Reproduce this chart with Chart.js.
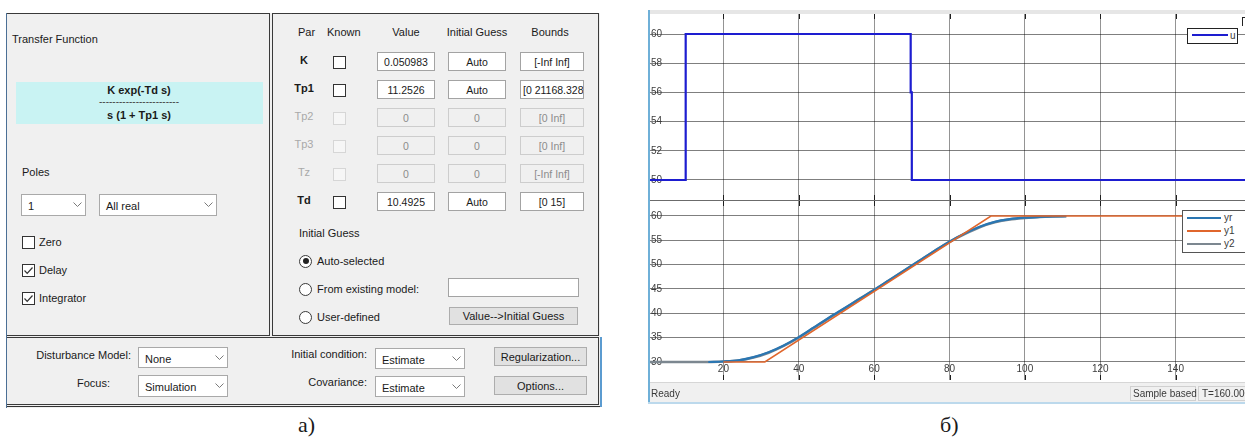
<!DOCTYPE html>
<html lang="ru">
<head>
<meta charset="utf-8">
<title>Transfer Function / Scope</title>
<script src="https://cdn.jsdelivr.net/npm/chart.js@4.4.1/dist/chart.umd.min.js"></script>
<style>
  html, body { margin:0; padding:0; background:#fff; }
  body { position:relative; width:1245px; height:438px; overflow:hidden;
         font-family:"Liberation Sans", Arial, sans-serif; font-size:11px; color:#1a1a1a; }
  .abs  { position:absolute; box-sizing:border-box; white-space:nowrap; }
  .lbl  { position:absolute; white-space:nowrap; line-height:14px; height:14px; }
  .panel{ position:absolute; box-sizing:border-box; border:1px solid #3a3a3a; background:#f0f0f0; }
  .box  { position:absolute; box-sizing:border-box; border:1px solid #a3a3a3; background:#fff; overflow:hidden;
          font-size:10.5px; display:flex; align-items:center; justify-content:center; white-space:nowrap; }
  .box.off { background:#f0f0f0; border-color:#cdcdcd; color:#8c8c8c; }
  .box.left { justify-content:flex-start; padding-left:2px; }
  .chk  { position:absolute; box-sizing:border-box; width:13px; height:13px; border:1px solid #333; background:#fff; }
  .chk.off { border-color:#d6d6d6; background:#f6f6f6; }
  .radio{ position:absolute; box-sizing:border-box; width:13px; height:13px; border:1px solid #3a3a3a; border-radius:50%; background:#fff; }
  .btn  { position:absolute; box-sizing:border-box; border:1px solid #adadad; background:#e1e1e1;
          display:flex; align-items:center; justify-content:center; font-size:11px; white-space:nowrap; }
  .combo{ position:absolute; box-sizing:border-box; border:1px solid #a9a9a9; background:#fff; font-size:11px;
          padding-left:6px; padding-top:2px; display:flex; align-items:center; white-space:nowrap; }
  .combo svg { position:absolute; right:3px; top:50%; margin-top:-3px; }
  .cap  { position:absolute; font-family:"Liberation Serif", "Times New Roman", serif; font-size:22px; line-height:24px; }
  canvas { position:absolute; }
  .stat { position:absolute; font-size:10px; color:#3a3a3a; line-height:12px; white-space:nowrap; }
</style>
</head>
<body>
<script>
// ---------- Parameter table of the transfer-function estimator ----------
const parNames   = ['K', 'Tp1', 'Tp2', 'Tp3', 'Tz', 'Td'];
const parValues  = ['0.050983', '11.2526', '0', '0', '0', '10.4925'];
const parGuesses = ['Auto', 'Auto', '0', '0', '0', 'Auto'];
const parBounds  = ['[-Inf Inf]', '[0 21168.328]', '[0 Inf]', '[0 Inf]', '[-Inf Inf]', '[0 15]'];
const parActive  = [true, true, false, false, false, true];

// ---------- Scope signals (time in s) ----------
const timeTicks = [20, 40, 60, 80, 100, 120, 140];
const uTicks    = [50, 52, 54, 56, 58, 60];
const yTicks    = [30, 35, 40, 45, 50, 55, 60];

const uTime = [0, 10, 10, 69.7, 69.7, 70, 70, 160];
const uVal  = [50, 50, 60, 60, 56, 56, 50, 50];

const yrTime = [16, 20, 24, 28, 32, 36, 40, 44, 48, 52, 56, 60, 64, 68, 72, 76, 80, 84, 88, 92, 96, 100, 104, 108, 111];
const yrVal  = [30.0, 30.1, 30.35, 31.0, 32.0, 33.4, 35.1, 37.1, 39.1, 41.0, 42.9, 44.8, 46.8, 48.8, 50.8, 52.8, 54.7, 56.4, 57.8, 58.8, 59.35, 59.65, 59.8, 59.9, 59.95];

const y1Time = [20, 31, 91, 160];
const y1Val  = [30, 30, 60, 60];

const y2Time = [0, 16, 20, 24, 28, 32, 36, 40, 44, 48, 52, 56, 60, 64, 68, 72, 76, 80, 84, 88, 92, 96, 100, 104, 108, 111];
const y2Val  = [30.0, 30.0, 30.1, 30.3, 30.9, 31.9, 33.3, 35.0, 37.0, 39.0, 40.9, 42.9, 44.8, 46.8, 48.8, 50.8, 52.8, 54.7, 56.3, 57.7, 58.7, 59.3, 59.6, 59.8, 59.9, 59.95];

const colU = '#1d1dd0', colYr = '#2a76b2', colY1 = '#e0662c', colY2 = '#7c8790';

// ---------- small DOM helpers ----------
function add(cls, x, y, w, h, text, extra) {
  const d = document.createElement('div');
  d.className = cls;
  d.style.left = x + 'px'; d.style.top = y + 'px';
  if (w != null) d.style.width = w + 'px';
  if (h != null) d.style.height = h + 'px';
  if (text != null) d.textContent = text;
  if (extra) Object.assign(d.style, extra);
  document.body.appendChild(d);
  return d;
}
function label(x, cy, text, extra) { return add('lbl', x, cy - 7, null, null, text, extra); }
function clabel(cx, cy, text, extra) {
  return add('lbl', cx, cy - 7, null, null, text, Object.assign({ transform: 'translateX(-50%)' }, extra || {}));
}
function rlabel(right, cy, text) {
  return add('lbl', 0, cy - 7, right, null, text, { textAlign: 'right' });
}
const CHEV = '<svg width="9" height="6" viewBox="0 0 9 6"><polyline points="0.5,0.5 4.5,4.5 8.5,0.5" fill="none" stroke="#7a7a7a" stroke-width="1"/></svg>';
const TICK = '<svg width="11" height="11" viewBox="0 0 11 11" style="position:absolute;left:0;top:0"><polyline points="1.5,5.5 4.2,8.3 9.5,2.5" fill="none" stroke="#333" stroke-width="1.2"/></svg>';
function combo(x, y, w, h, text) {
  const d = add('combo', x, y, w, h, text);
  d.insertAdjacentHTML('beforeend', CHEV);
  return d;
}
function check(x, y, on, disabled) {
  const d = add('chk' + (disabled ? ' off' : ''), x, y, 13, 13);
  if (on) d.innerHTML = TICK;
  return d;
}
function radio(x, cy, on) {
  const d = add('radio', x, cy - 6.5, 13, 13);
  if (on) d.innerHTML = '<div style="position:absolute;left:2.5px;top:2.5px;width:6px;height:6px;border-radius:50%;background:#222"></div>';
  return d;
}

// ---------- dialog frame ----------
add('abs', 6, 13, 594, 395, null, { background: '#f0f0f0' });
add('panel', 6, 13, 264, 323);
add('panel', 272, 13, 327, 323);
add('panel', 6, 337, 593, 68);
add('abs', 6, 406, 595, 1, null, { background: '#333' });
add('abs', 6, 13, 1, 395, null, { background: '#4b6f95' });
add('abs', 600, 337, 2, 70, null, { background: '#5b9bd0' });

// ---------- left panel: model structure ----------
label(12, 39, 'Transfer Function');
add('abs', 16, 82, 247, 42, null, { background: '#c9f3f3' });
clabel(139, 90, 'K exp(-Td s)', { fontWeight: 'bold' });
clabel(139, 102, '------------------------', { fontSize: '10px', color: '#444' });
clabel(139, 115, 's (1 + Tp1 s)', { fontWeight: 'bold' });
label(22, 172, 'Poles');
combo(21, 194, 65, 22, '1');
combo(99, 194, 118, 22, 'All real');
check(22, 236, false); label(39, 242, 'Zero');
check(22, 264, true);  label(39, 270, 'Delay');
check(22, 292, true);  label(39, 298, 'Integrator');

// ---------- right panel: parameter table ----------
label(298, 32, 'Par'); label(327, 32, 'Known');
clabel(406, 32, 'Value'); clabel(477, 32, 'Initial Guess'); clabel(550, 32, 'Bounds');
const rowY = [62, 90, 118, 146, 174, 202];
parNames.forEach((name, i) => {
  const cy = rowY[i], on = parActive[i];
  clabel(304, cy - 2, name, on ? { fontWeight: 'bold' } : { color: '#a9a9a9' });
  check(333, cy - 6, false, !on);
  add('box' + (on ? '' : ' off'), 377, cy - 10, 58, 19, parValues[i]);
  add('box' + (on ? '' : ' off'), 448, cy - 10, 58, 19, parGuesses[i]);
  const b = add('box' + (on ? '' : ' off'), 520, cy - 10, 64, 19, parBounds[i]);
  if (b.scrollWidth > b.clientWidth) b.classList.add('left');
});
label(299, 233, 'Initial Guess');
radio(299, 261, true);  label(317, 261, 'Auto-selected');
radio(299, 289, false); label(317, 289, 'From existing model:');
radio(299, 317, false); label(317, 317, 'User-defined');
add('box', 448, 278, 131, 19, '');
add('btn', 449, 307, 129, 18, 'Value-->Initial Guess');

// ---------- bottom panel: estimation options ----------
rlabel(131, 355, 'Disturbance Model:');
combo(138, 347, 90, 21, 'None');
rlabel(110, 383, 'Focus:');
combo(138, 375, 90, 22, 'Simulation');
rlabel(367, 354, 'Initial condition:');
combo(375, 348, 90, 21, 'Estimate');
rlabel(367, 382, 'Covariance:');
combo(375, 376, 90, 21, 'Estimate');
add('btn', 494, 347, 93, 19, 'Regularization...');
add('btn', 494, 376, 93, 19, 'Options...');

add('cap', 298, 413, null, null, 'а)');
add('cap', 940, 413, null, null, 'б)');

// ---------- scope frame ----------
add('abs', 650, 10, 595, 4, null, { background: '#e6e6e6' });
add('abs', 1242, 17, 6, 9, null, { borderLeft: '1px solid #222', borderTop: '1px solid #222' });

// ---------- scope plots ----------
Chart.defaults.font.family = '"Liberation Sans", Arial, sans-serif';
Chart.defaults.font.size = 10;
Chart.defaults.color = '#3c3c3c';

function pts(t, v) { return t.map((x, i) => ({ x: x, y: v[i] })); }
function fixedTicks(values) { return scale => { scale.ticks = values.map(v => ({ value: v })); }; }

// short dark marks where the time grid meets the plot edges
const edgeTicks = {
  id: 'edgeTicks',
  afterDatasetsDraw(chart, args, opts) {
    const { ctx, chartArea: a } = chart, x = chart.scales.x;
    ctx.save();
    ctx.strokeStyle = '#1e1e1e'; ctx.lineWidth = 1;
    x.ticks.forEach((t, i) => {
      const px = Math.round(x.getPixelForTick(i)) + 0.5;
      ctx.beginPath();
      ctx.moveTo(px, a.top); ctx.lineTo(px, a.top + opts.len);
      ctx.moveTo(px, a.bottom); ctx.lineTo(px, a.bottom - opts.len);
      ctx.stroke();
    });
    ctx.restore();
  }
};

function makeCanvas(x, y, w, h) {
  const c = document.createElement('canvas');
  c.width = w; c.height = h;
  c.style.left = x + 'px'; c.style.top = y + 'px';
  c.style.width = w + 'px'; c.style.height = h + 'px';
  document.body.appendChild(c);
  return c;
}

// axes take no room: the plot fills its canvas, labels sit inside it
function noRoom(horizontal) {
  return s => {
    if (horizontal) s.height = 0; else s.width = 0;
    s.paddingTop = 0; s.paddingBottom = 0; s.paddingLeft = 0; s.paddingRight = 0;
  };
}

function scopeOptions(yMin, yMax, yTickVals, xLabelsAt) {
  return {
    responsive: false, animation: false, devicePixelRatio: 1,
    layout: { padding: 0 },
    plugins: { legend: { display: false }, tooltip: { enabled: false }, edgeTicks: { len: 5 } },
    elements: { point: { radius: 0 }, line: { tension: 0 } },
    scales: {
      x: {
        type: 'linear', min: 0, max: 160,
        position: xLabelsAt != null ? { y: xLabelsAt } : 'bottom',
        afterBuildTicks: fixedTicks(timeTicks),
        afterFit: noRoom(true),
        grid: { color: 'rgba(0,0,0,0.42)', drawTicks: false },
        border: { display: false },
        ticks: { display: xLabelsAt != null, padding: 0, maxRotation: 0, autoSkip: false }
      },
      y: {
        type: 'linear', min: yMin, max: yMax, position: 'left',
        afterBuildTicks: fixedTicks(yTickVals),
        afterFit: noRoom(false),
        grid: { color: 'rgba(0,0,0,0.5)', drawTicks: false },
        border: { display: false },
        ticks: { mirror: true, padding: 3, autoSkip: false }
      }
    }
  };
}

new Chart(makeCanvas(648, 14, 603, 186), {
  type: 'line',
  data: { datasets: [
    { label: 'u', data: pts(uTime, uVal), borderColor: colU, borderWidth: 2.2 }
  ] },
  options: scopeOptions(48.63, 61.37, uTicks, null),
  plugins: [edgeTicks]
});

new Chart(makeCanvas(648, 201, 603, 179), {
  type: 'line',
  data: { datasets: [
    { label: 'y1', data: pts(y1Time, y1Val), borderColor: colY1, borderWidth: 1.6 },
    { label: 'yr', data: pts(yrTime, yrVal), borderColor: colYr, borderWidth: 2.2, cubicInterpolationMode: 'monotone' },
    { label: 'y2', data: pts(y2Time, y2Val), borderColor: colY2, borderWidth: 2.6, cubicInterpolationMode: 'monotone' }
  ] },
  options: scopeOptions(26.30, 63.08, yTicks, 29.79),
  plugins: [edgeTicks]
});

// plot separator, borders and status bar
add('abs', 650, 200, 595, 1, null, { background: '#6b6b6b' });
add('abs', 648, 10, 2, 394, null, { background: '#6fb0d8' });
add('abs', 650, 382, 595, 20, null, { background: '#f0f0f0', borderTop: '1px solid #d6d6d6' });
add('abs', 648, 402, 597, 2, null, { background: '#bcd9ec' });
add('stat', 651, 388, null, null, 'Ready');
add('stat', 1130, 386, 66, 15, 'Sample based', { border: '1px solid #d0d0d0', boxSizing: 'border-box', paddingLeft: '2px', lineHeight: '13px' });
add('stat', 1198, 386, 60, 15, 'T=160.000', { border: '1px solid #d0d0d0', boxSizing: 'border-box', paddingLeft: '3px', lineHeight: '13px' });

// legends
add('abs', 1187, 28, 51, 16, null, { border: '1px solid #222', background: '#fff' });
add('abs', 1192, 34, 36, 2, null, { background: colU });
add('stat', 1230, 30, null, null, 'u');

add('abs', 1182, 210, 64, 43, null, { border: '1px solid #555', background: '#fff' });
[['yr', colYr, 218], ['y1', colY1, 231], ['y2', colY2, 244]].forEach(([name, col, y]) => {
  add('abs', 1187, y - 1, 34, 2, null, { background: col });
  add('stat', 1224, y - 6, null, null, name);
});
</script>
</body>
</html>
